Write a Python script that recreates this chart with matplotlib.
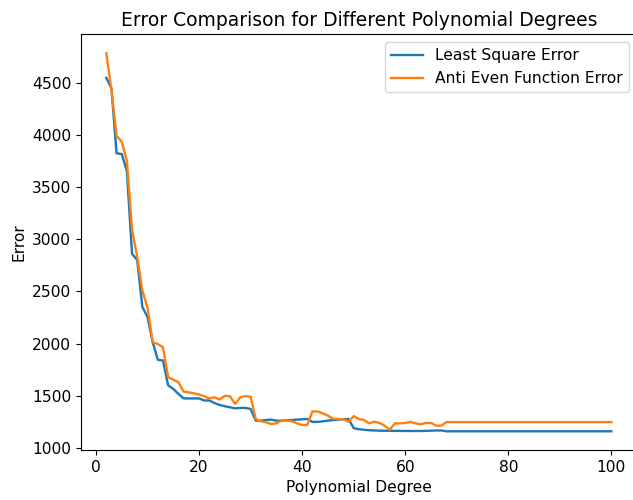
import matplotlib
matplotlib.use("Agg")
import matplotlib.pyplot as plt

# polynomial degrees tested
degrees = list(range(2, 101))

least_square_error = [
    4545, 4446, 3822, 3816, 3650, 2860, 2800, 2350, 2254, 2014,
    1845, 1838, 1600, 1566, 1518, 1475, 1475, 1475, 1475, 1455,
    1455, 1430, 1412, 1400, 1390, 1380, 1384, 1384, 1374, 1262,
    1262, 1268, 1272, 1262, 1262, 1265, 1268, 1272, 1275, 1278,
    1250, 1250, 1255, 1262, 1268, 1272, 1275, 1278, 1190, 1180,
    1175, 1170, 1168, 1166, 1165, 1165, 1164, 1164, 1163, 1163,
    1163, 1163, 1164, 1166, 1168, 1168, 1160, 1160, 1160, 1160,
    1160, 1160, 1160, 1160, 1160, 1160, 1160, 1160, 1160, 1160,
    1160, 1160, 1160, 1160, 1160, 1160, 1160, 1160, 1160, 1160,
    1160, 1160, 1160, 1160, 1160, 1160, 1160, 1160, 1160,
]

anti_even_error = [
    4780, 4430, 3990, 3934, 3750, 3090, 2830, 2510, 2344, 2014,
    1995, 1966, 1678, 1655, 1630, 1540, 1533, 1524, 1512, 1496,
    1475, 1486, 1464, 1500, 1496, 1422, 1486, 1496, 1492, 1278,
    1256, 1246, 1230, 1236, 1262, 1262, 1256, 1236, 1220, 1220,
    1350, 1350, 1332, 1310, 1280, 1278, 1275, 1252, 1305, 1278,
    1268, 1236, 1252, 1240, 1214, 1176, 1236, 1236, 1240, 1250,
    1236, 1227, 1240, 1240, 1214, 1214, 1248, 1248, 1248, 1248,
    1248, 1248, 1248, 1248, 1248, 1248, 1248, 1248, 1248, 1248,
    1248, 1248, 1248, 1248, 1248, 1248, 1248, 1248, 1248, 1248,
    1248, 1248, 1248, 1248, 1248, 1248, 1248, 1248, 1248,
]

# the reference was drawn a little larger than matplotlib's defaults
plt.rcParams["font.size"] = 11.2
plt.rcParams["lines.linewidth"] = 1.7

fig = plt.figure(figsize=(6.33, 5.0), dpi=100)
# the original picture is cut off on the right, so the axes run past the edge
ax = fig.add_axes([0.128, 0.0996, 0.8777, 0.8316])

ax.plot(degrees, least_square_error, label="Least Square Error")
ax.plot(degrees, anti_even_error, label="Anti Even Function Error")

ax.set_title("Error Comparison for Different Polynomial Degrees", fontsize=13.5)
ax.set_xlabel("Polynomial Degree")
ax.set_ylabel("Error")
ax.legend(loc="upper right")

fig.savefig("out.png", dpi=100)
